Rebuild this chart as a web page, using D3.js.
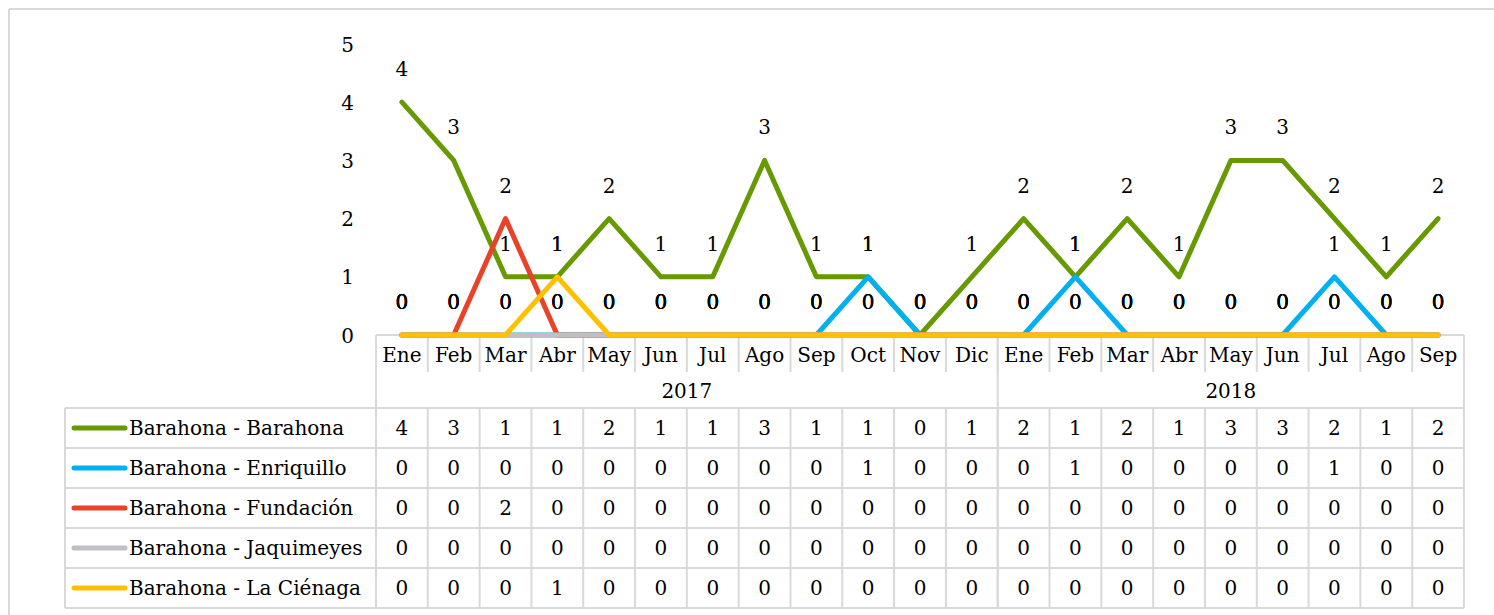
<!DOCTYPE html>
<html><head><meta charset="utf-8">
<script src="https://cdn.jsdelivr.net/npm/d3@7"></script>
<style>body{margin:0;background:#fff}svg{display:block}text{font-family:"DejaVu Serif",serif;fill:#000}</style>
</head><body>
<svg id="c" width="1494" height="615"></svg>
<script>
const months = ["Ene","Feb","Mar","Abr","May","Jun","Jul","Ago","Sep","Oct","Nov","Dic","Ene","Feb","Mar","Abr","May","Jun","Jul","Ago","Sep"];
const years = [{label:"2017", count:12},{label:"2018", count:9}];
const seriesNames = ["Barahona - Barahona","Barahona - Enriquillo","Barahona - Fundación","Barahona - Jaquimeyes","Barahona - La Ciénaga"];
const barahona   = [4,3,1,1,2,1,1,3,1,1,0,1,2,1,2,1,3,3,2,1,2];
const enriquillo = [0,0,0,0,0,0,0,0,0,1,0,0,0,1,0,0,0,0,1,0,0];
const fundacion  = [0,0,2,0,0,0,0,0,0,0,0,0,0,0,0,0,0,0,0,0,0];
const jaquimeyes = [0,0,0,0,0,0,0,0,0,0,0,0,0,0,0,0,0,0,0,0,0];
const laCienaga  = [0,0,0,1,0,0,0,0,0,0,0,0,0,0,0,0,0,0,0,0,0];
const yTicks = [0,1,2,3,4,5];
const colors = ["#669A00","#00B0F0","#E8432A","#BFC0C6","#FFC000"];

const seriesValues = [barahona, enriquillo, fundacion, jaquimeyes, laCienaga];
const series = seriesNames.map((n,i)=>({name:n, values:seriesValues[i], color:colors[i]}));

const svg = d3.select("#c");
const FS = 20;
const gridC = "#D9D9D9";
const idx = d3.range(months.length);

const x = d3.scaleBand().domain(idx).range([376,1464]);
const bw = x.bandwidth();
const cx = i => x(i) + bw/2;
const y = d3.scaleLinear().domain([0,5]).range([335,44]);

// outer frame
svg.append("line").attr("x1",9).attr("x2",1494).attr("y1",9).attr("y2",9).attr("stroke",gridC).attr("stroke-width",2);
svg.append("line").attr("x1",9).attr("x2",9).attr("y1",9).attr("y2",615).attr("stroke",gridC).attr("stroke-width",2);

// y axis labels
const yAxis = d3.axisLeft(y).tickValues(yTicks).tickSize(0).tickPadding(0).tickFormat(d3.format("d"));
const ya = svg.append("g").attr("transform","translate(354,0)").call(yAxis);
ya.select(".domain").remove();
ya.selectAll("text").attr("font-size",FS).attr("font-family","DejaVu Serif").attr("fill","#000").attr("dy","0.35em");

// table geometry
const rowMonthTop = 335, rowMonthBot = 372, rowYearBot = 408, rowH = 40;
const left = 65, right = 1464;
const tg = svg.append("g").attr("stroke",gridC).attr("stroke-width",2);
// month row top line
tg.append("line").attr("x1",376).attr("x2",right).attr("y1",rowMonthTop).attr("y2",rowMonthTop);
// month separators
idx.forEach(i=>{
  if(i===0) return;
  tg.append("line").attr("x1",x(i)).attr("x2",x(i)).attr("y1",rowMonthTop).attr("y2",rowMonthBot);
});
// year boundaries
let acc = 0;
const yearPos = years.map(yr=>{const s=acc; acc+=yr.count; return {label:yr.label, start:s, end:acc};});
yearPos.forEach(yp=>{
  tg.append("line").attr("x1",x(yp.start)).attr("x2",x(yp.start)).attr("y1",rowMonthTop).attr("y2",rowYearBot+5*rowH);
});
tg.append("line").attr("x1",right).attr("x2",right).attr("y1",rowMonthTop).attr("y2",rowYearBot+5*rowH);
// horizontal lines data rows
for(let r=0;r<=5;r++){
  tg.append("line").attr("x1",left).attr("x2",right).attr("y1",rowYearBot+r*rowH).attr("y2",rowYearBot+r*rowH);
}
tg.append("line").attr("x1",left).attr("x2",left).attr("y1",rowYearBot).attr("y2",rowYearBot+5*rowH);
// data columns separators
idx.forEach(i=>{
  tg.append("line").attr("x1",x(i)).attr("x2",x(i)).attr("y1",rowYearBot).attr("y2",rowYearBot+5*rowH);
});

// month labels
svg.append("g").selectAll("text").data(idx).join("text")
  .attr("x",i=>cx(i)).attr("y",(rowMonthTop+rowMonthBot)/2+1).attr("dy","0.35em")
  .attr("text-anchor","middle").attr("font-size",FS).text(i=>months[i]);
// year labels
svg.append("g").selectAll("text").data(yearPos).join("text")
  .attr("x",d=>(x(d.start)+x(d.end-1)+bw)/2).attr("y",(rowMonthBot+rowYearBot)/2+1).attr("dy","0.35em")
  .attr("text-anchor","middle").attr("font-size",FS).text(d=>d.label);

// table rows
series.forEach((s,r)=>{
  const ymid = rowYearBot + r*rowH + rowH/2;
  svg.append("line").attr("x1",74).attr("x2",125).attr("y1",ymid).attr("y2",ymid)
    .attr("stroke",s.color).attr("stroke-width",5).attr("stroke-linecap","round");
  svg.append("text").attr("x",129).attr("y",ymid).attr("dy","0.35em").attr("font-size",FS).text(s.name);
  svg.append("g").selectAll("text").data(s.values).join("text")
    .attr("x",(d,i)=>cx(i)).attr("y",ymid).attr("dy","0.35em").attr("text-anchor","middle")
    .attr("font-size",FS).text(d=>d);
});

// lines
const line = d3.line().x((d,i)=>cx(i)).y(d=>y(d));
series.forEach(s=>{
  svg.append("path").datum(s.values).attr("d",line).attr("fill","none")
    .attr("stroke",s.color).attr("stroke-width",5).attr("stroke-linejoin","round").attr("stroke-linecap","round");
});
// data labels
series.forEach(s=>{
  svg.append("g").selectAll("text").data(s.values).join("text")
    .attr("x",(d,i)=>cx(i)).attr("y",d=>y(d)-33).attr("dy","0.35em").attr("text-anchor","middle")
    .attr("font-size",FS).text(d=>d);
});
</script>
</body></html>
